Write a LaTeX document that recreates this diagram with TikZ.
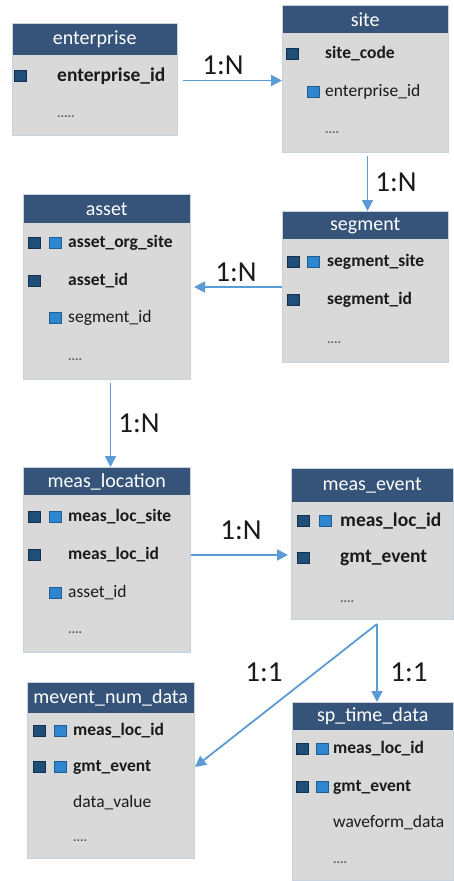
\documentclass[tikz,border=0pt]{standalone}
\usepackage{fontspec}
\setmainfont{Carlito}
\usetikzlibrary{arrows.meta}
\definecolor{hdr}{HTML}{365479}
\definecolor{bodyc}{HTML}{D9D9D9}
\definecolor{brd}{HTML}{C9D3DF}
\definecolor{pkc}{HTML}{1F4E79}
\definecolor{fkc}{HTML}{2E86D0}
\definecolor{conc}{HTML}{5B9BD5}
\definecolor{txt}{HTML}{1A1A1A}
\tikzset{
  tbody/.style={draw=brd, line width=1pt, fill=bodyc, inner sep=0pt, anchor=north west},
  thead/.style={fill=hdr, text=white, inner sep=0pt, anchor=north west, font=\fontsize{20}{20}\selectfont},
  rowb/.style={anchor=west, inner sep=0pt, text=txt, font=\fontsize{#1}{#1}\selectfont\bfseries},
  rowb/.default=17.5,
  rowr/.style={anchor=west, inner sep=0pt, text=txt, font=\fontsize{#1}{#1}\selectfont},
  rowr/.default=17.5,
  dotrow/.style={anchor=west, inner sep=0pt, text=black!65, font=\fontsize{13}{13}\selectfont\bfseries},
  pk/.style={fill=pkc, draw=pkc!60!black, minimum width=12pt, minimum height=11pt, inner sep=0pt, line width=0.5pt},
  fk/.style={fill=fkc, draw=fkc!70!black, minimum width=12pt, minimum height=11pt, inner sep=0pt, line width=0.5pt},
  conn/.style={draw=conc, line width=1.8pt, -{Triangle[length=11pt,width=11pt]}},
  card/.style={font=\fontsize{29}{29}\selectfont, text=txt, inner sep=0pt}
}
\newcommand{\erbox}[7]{%
  \node[tbody, minimum width={(#4-#2)*1pt}, minimum height={(#5-#3)*1pt}] (#1) at (#2,#3) {};
  \node[thead, minimum width={(#4-#2)*1pt-1pt}, minimum height={(#6-#3)*1pt-0.5pt}] (#1h) at (#2+0.5,#3+0.5) {#7};
}
\begin{document}
\begin{tikzpicture}[x=1pt,y=-1pt]
\useasboundingbox (0,0) rectangle (454,881);

% enterprise
\erbox{ent}{12}{23}{177}{135}{55}{enterprise}
\node[pk] (entk1) at (20,76) {};
\node[rowb=19.5] (ent1) at (57,76) {enterprise\_id};
\node[dotrow] (ent2) at (57,117) {.....};

% site
\erbox{site}{282}{5}{448}{152}{33}{site}
\node[pk] (sitek1) at (292,54) {};
\node[rowb] (site1) at (325,54) {site\_code};
\node[fk] (sitef2) at (313,92) {};
\node[rowr] (site2) at (325,92) {enterprise\_id};
\node[dotrow] (site3) at (325,133) {....};

% asset
\erbox{ast}{23}{194}{190}{379}{223}{asset}
\node[pk] (astk1) at (34,243) {};
\node[fk] (astf1) at (55,243) {};
\node[rowb] (ast1) at (68,243) {asset\_org\_site};
\node[pk] (astk2) at (34,281) {};
\node[rowb] (ast2) at (68,281) {asset\_id};
\node[fk] (astf3) at (55,318) {};
\node[rowr] (ast3) at (68,318) {segment\_id};
\node[dotrow] (ast4) at (68,360) {....};

% segment
\erbox{seg}{282}{211}{448}{362}{239}{segment}
\node[pk] (segk1) at (293,262) {};
\node[fk] (segf1) at (313,262) {};
\node[rowb] (seg1) at (327,262) {segment\_site};
\node[pk] (segk2) at (293,300) {};
\node[rowb] (seg2) at (327,300) {segment\_id};
\node[dotrow] (seg3) at (327,343) {....};

% meas_location
\erbox{mloc}{23}{467}{190}{652}{495}{meas\_location}
\node[pk] (mlock1) at (34,517) {};
\node[fk] (mlocf1) at (55,517) {};
\node[rowb] (mloc1) at (68,517) {meas\_loc\_site};
\node[pk] (mlock2) at (34,555) {};
\node[rowb] (mloc2) at (68,555) {meas\_loc\_id};
\node[fk] (mlocf3) at (55,593) {};
\node[rowr] (mloc3) at (68,593) {asset\_id};
\node[dotrow] (mloc4) at (68,633) {....};

% meas_event
\erbox{mevt}{291}{468}{453}{619}{502}{meas\_event}
\node[pk] (mevtk1) at (303,521) {};
\node[fk] (mevtf1) at (325,521) {};
\node[rowb=19.5] (mevt1) at (340,521) {meas\_loc\_id};
\node[pk] (mevtk2) at (303,558) {};
\node[rowb=19.5] (mevt2) at (340,558) {gmt\_event};
\node[dotrow] (mevt3) at (340,602) {....};

% mevent_num_data
\erbox{mnum}{27}{682}{194}{858}{713}{mevent\_num\_data}
\node[pk] (mnumk1) at (39,731) {};
\node[fk] (mnumf1) at (60,731) {};
\node[rowb] (mnum1) at (73,731) {meas\_loc\_id};
\node[pk] (mnumk2) at (39,767) {};
\node[fk] (mnumf2) at (60,767) {};
\node[rowb] (mnum2) at (73,767) {gmt\_event};
\node[rowr] (mnum3) at (73,803) {data\_value};
\node[dotrow] (mnum4) at (73,841) {....};

% sp_time_data
\erbox{spt}{292}{702}{453}{880}{730}{sp\_time\_data}
\node[pk] (sptk1) at (302,749) {};
\node[fk] (sptf1) at (322,749) {};
\node[rowb] (spt1) at (333,749) {meas\_loc\_id};
\node[pk] (sptk2) at (302,787) {};
\node[fk] (sptf2) at (322,787) {};
\node[rowb] (spt2) at (333,787) {gmt\_event};
\node[rowr] (spt3) at (333,823) {waveform\_data};
\node[dotrow] (spt4) at (333,863) {....};

% connectors
\draw[conn, shorten <=5pt] ([yshift=-1pt]ent.east) -- ([yshift=-1pt]ent.east -| site.west);
\draw[conn, shorten <=3pt] ([xshift=2pt]site.south) -- ([xshift=2pt]seg.north);
\draw[conn, shorten >=3pt] (seg.west) -- (seg.west -| ast.east);
\draw[conn, shorten <=3pt] ([xshift=3.5pt]ast.south) -- ([xshift=3.5pt]mloc.north);
\draw[conn, shorten >=3pt] (mloc2 -| mloc.east) -- (mloc2 -| mevt.west);
\coordinate (br) at (377,624);
\draw[conn] (br) -- (br |- spt.north);
\draw[conn] (br) -- (mnum2 -| mnum.east);

% cardinality labels
\node[card] (c1) at (223,65) {1:N};
\node[card] (c2) at (396,182) {1:N};
\node[card] (c3) at (236,272) {1:N};
\node[card] (c4) at (139,423) {1:N};
\node[card] (c5) at (241,530) {1:N};
\node[card] (c6) at (264,672) {1:1};
\node[card] (c7) at (409,672) {1:1};
\end{tikzpicture}
\end{document}
